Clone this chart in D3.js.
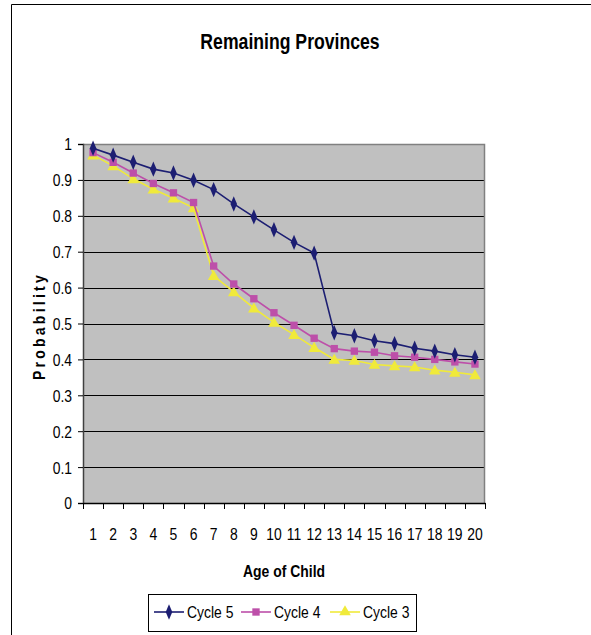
<!DOCTYPE html>
<html>
<head>
<meta charset="utf-8">
<script src="https://cdn.jsdelivr.net/npm/d3@7"></script>
<style>
  html, body { margin: 0; padding: 0; background: #fff; }
  svg { display: block; }
  text { font-family: "Liberation Sans", Arial, sans-serif; fill: #000; }
</style>
</head>
<body>
<svg id="chart" width="591" height="635"></svg>
<script>
// Ages of the child (x categories)
const ages = [1, 2, 3, 4, 5, 6, 7, 8, 9, 10, 11, 12, 13, 14, 15, 16, 17, 18, 19, 20];

// Survival probability by age, one array per survey cycle
const cycle5 = [0.988, 0.969, 0.949, 0.930, 0.919, 0.899, 0.873, 0.833, 0.797, 0.761,
                0.726, 0.696, 0.474, 0.466, 0.452, 0.444, 0.431, 0.423, 0.413, 0.406];
const cycle4 = [0.976, 0.949, 0.919, 0.890, 0.864, 0.837, 0.660, 0.610, 0.569, 0.530,
                0.495, 0.459, 0.430, 0.423, 0.420, 0.410, 0.406, 0.400, 0.393, 0.387];
const cycle3 = [0.969, 0.939, 0.903, 0.874, 0.849, 0.822, 0.633, 0.588, 0.543, 0.503,
                0.469, 0.433, 0.400, 0.397, 0.386, 0.382, 0.379, 0.370, 0.364, 0.357];

const seriesNames = ["Cycle 5", "Cycle 4", "Cycle 3"];
const yTicks = [0, 0.1, 0.2, 0.3, 0.4, 0.5, 0.6, 0.7, 0.8, 0.9, 1];
const yTickLabels = ["0", "0.1", "0.2", "0.3", "0.4", "0.5", "0.6", "0.7", "0.8", "0.9", "1"];

const series = [
  { name: seriesNames[0], values: cycle5, color: "#1c1e72", marker: "diamond" },
  { name: seriesNames[1], values: cycle4, color: "#bd4fa9", marker: "square" },
  { name: seriesNames[2], values: cycle3, color: "#f0ea3a", marker: "triangle" }
];

const svg = d3.select("#chart");
const SX = 0.82;          // horizontal squeeze of the lettering
const FS = 17;            // base font size

// Outer chart frame (open to the right and bottom)
svg.append("path")
  .attr("d", "M591,4.5H11.5V635")
  .attr("fill", "none")
  .attr("stroke", "#000")
  .attr("stroke-width", 1);

const plot = { left: 83, top: 144, right: 485, bottom: 503 };

const x = d3.scaleBand().domain(ages).range([plot.left, plot.right]).padding(0);
const y = d3.scaleLinear().domain([0, 1]).range([plot.bottom, plot.top]);

// Plot background
svg.append("rect")
  .attr("x", plot.left).attr("y", plot.top)
  .attr("width", plot.right - plot.left).attr("height", plot.bottom - plot.top)
  .attr("fill", "#c0c0c0");

// Horizontal gridlines
svg.append("g").selectAll("line")
  .data(yTicks.filter(v => v > 0 && v < 1))
  .join("line")
  .attr("x1", plot.left).attr("x2", plot.right)
  .attr("y1", d => Math.round(y(d)) + 0.5).attr("y2", d => Math.round(y(d)) + 0.5)
  .attr("stroke", "#000").attr("stroke-width", 1);

// Top and right border of the plot area
svg.append("path")
  .attr("d", `M${plot.left},${plot.top + 0.5}H${plot.right - 0.5}V${plot.bottom}`)
  .attr("fill", "none").attr("stroke", "#808080").attr("stroke-width", 1.5);

// Y axis
const yAxis = svg.append("g")
  .attr("transform", `translate(${plot.left},0)`)
  .call(d3.axisLeft(y).tickValues(yTicks).tickSize(5).tickPadding(6)
    .tickFormat((d, i) => yTickLabels[i]));
yAxis.select(".domain").attr("stroke", "#404040").attr("stroke-width", 1.5);
yAxis.selectAll(".tick line").attr("stroke", "#000");
yAxis.selectAll(".tick text")
  .attr("font-size", FS)
  .attr("font-family", "Liberation Sans, Arial, sans-serif")
  .attr("x", -11 / SX)
  .attr("dy", "0.35em")
  .attr("transform", `scale(${SX},1)`);

// X axis: labels under each category, ticks on the category boundaries
const xAxis = svg.append("g")
  .attr("transform", `translate(0,${plot.bottom})`)
  .call(d3.axisBottom(x).tickSize(0).tickPadding(0));
xAxis.select(".domain").attr("stroke", "#000").attr("stroke-width", 1.5);
xAxis.selectAll(".tick text")
  .attr("font-size", FS)
  .attr("font-family", "Liberation Sans, Arial, sans-serif")
  .attr("y", 37).attr("dy", 0)
  .attr("transform", `scale(${SX},1)`);
xAxis.append("g").selectAll("line")
  .data(d3.range(ages.length + 1))
  .join("line")
  .attr("x1", i => Math.round(plot.left + i * x.step()) + 0.5)
  .attr("x2", i => Math.round(plot.left + i * x.step()) + 0.5)
  .attr("y1", 0).attr("y2", 6)
  .attr("stroke", "#000");

// Marker shapes
const symbolFor = {
  diamond: d3.symbol().type(d3.symbolDiamond).size(52),
  square: d3.symbol().type(d3.symbolSquare).size(54),
  triangle: d3.symbol().type(d3.symbolTriangle).size(58)
};

const line = d3.line()
  .x((d, i) => x(ages[i]) + x.bandwidth() / 2)
  .y(d => y(d));

// Draw back to front: Cycle 3, Cycle 4, Cycle 5
[...series].reverse().forEach(s => {
  const g = svg.append("g");
  g.append("path")
    .datum(s.values)
    .attr("d", line)
    .attr("fill", "none")
    .attr("stroke", s.color)
    .attr("stroke-width", 1.6);
  g.selectAll("path.mark")
    .data(s.values)
    .join("path")
    .attr("class", "mark")
    .attr("d", symbolFor[s.marker])
    .attr("transform", (d, i) => {
      const cx = x(ages[i]) + x.bandwidth() / 2;
      const cy = y(d) + (s.marker === "triangle" ? 1 : 0);
      return s.marker === "diamond"
        ? `translate(${cx},${cy}) scale(0.85,1.15)`
        : `translate(${cx},${cy})`;
    })
    .attr("fill", s.color);
});

// Title
svg.append("text")
  .attr("transform", `translate(290,49) scale(${SX},1)`)
  .attr("text-anchor", "middle")
  .attr("font-size", 21.5)
  .attr("font-weight", "bold")
  .text("Remaining Provinces");

// X axis title
svg.append("text")
  .attr("transform", `translate(284,577) scale(${SX},1)`)
  .attr("text-anchor", "middle")
  .attr("font-size", FS)
  .attr("font-weight", "bold")
  .text("Age of Child");

// Y axis title (letter-spaced)
svg.append("text")
  .attr("transform", `translate(45,326) rotate(-90) scale(${SX},1)`)
  .attr("text-anchor", "middle")
  .attr("font-size", FS)
  .attr("font-weight", "bold")
  .attr("letter-spacing", 4)
  .text("Probability");

// Legend
const legend = svg.append("g");
legend.append("rect")
  .attr("x", 148.5).attr("y", 594.5)
  .attr("width", 268).attr("height", 37)
  .attr("fill", "#fff").attr("stroke", "#000").attr("stroke-width", 1);

const legendX = [154, 241, 330];
series.forEach((s, i) => {
  const lx = legendX[i];
  const ly = 612;
  const g = legend.append("g");
  g.append("line")
    .attr("x1", lx).attr("x2", lx + 30)
    .attr("y1", ly).attr("y2", ly)
    .attr("stroke", s.color).attr("stroke-width", 1.6);
  g.append("path")
    .attr("d", symbolFor[s.marker])
    .attr("transform", s.marker === "diamond"
      ? `translate(${lx + 15},${ly}) scale(0.85,1.15)`
      : `translate(${lx + 15},${ly})`)
    .attr("fill", s.color);
  g.append("text")
    .attr("transform", `translate(${lx + 33},${ly}) scale(${SX},1)`)
    .attr("dy", "0.35em")
    .attr("font-size", FS)
    .text(s.name);
});
</script>
</body>
</html>
